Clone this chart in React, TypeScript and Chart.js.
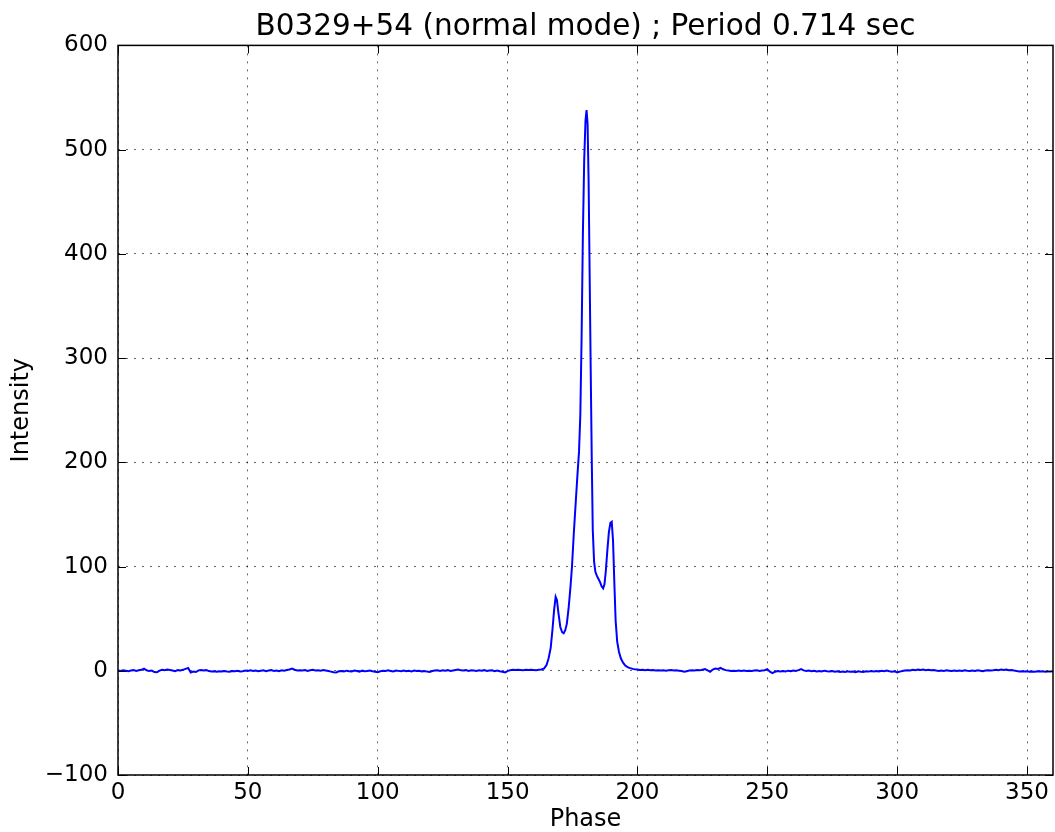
import React, { useEffect, useRef } from "react";
import { Chart, registerables } from "chart.js";

Chart.register(...registerables);

const chartTitle = "B0329+54 (normal mode) ; Period 0.714 sec";
const xLabel = "Phase";
const yLabel = "Intensity";
const xTicks = [0, 50, 100, 150, 200, 250, 300, 350];
const yMin = -100;
const yMax = 600;
const yStep = 100;
const xMin = 0;
const xMax = 360;

// Off-pulse baseline, one value per degree of phase starting at leftBaselineStart
const leftBaselineStart = 0;
const leftBaseline = [
  0.3, -0.2, 0.5, 0.1, -0.4, 0.2, 0.6, -0.1, 0.4, 0.9,
  2.0, 0.5, -0.3, 0.2, -1.2, -1.5, 0.1, 1.0, 0.6, 1.2,
  0.8, 0.3, -0.4, 0.6, 0.2, 0.9, 1.8, 2.6, -1.6, -0.8,
  -1.2, 0.4, 0.7, 0.2, 0.6, -0.3, -0.8, -0.5, -0.9, -0.4,
  -0.7, -0.2, -0.6, -0.9, -0.3, -0.5, -0.1, -0.7, -0.4, 0.2,
  -0.3, 0.4, -0.2, 0.3, -0.5, 0.1, 0.5, -0.4, 0.2, 0.6,
  -0.2, 0.3, -0.4, 0.5, 0.1, 0.7, 1.2, 2.1, 1.0, 0.3,
  0.6, 0.2, 0.8, -0.1, 0.5, 0.9, 0.3, 0.6, 0.1, 0.7,
  0.2, -0.3, -0.8, -1.4, -1.6, -0.5, -0.2, -0.7, 0.1, -0.4,
  -0.6, 0.2, -0.3, -0.8, 0.1, -0.5, -0.2, 0.3, -0.4, -0.9,
  -1.3, -0.4, 0.1, -0.3, 0.4, -0.2, -0.6, 0.2, -0.1, -0.5,
  0.3, -0.4, -0.1, -0.7, 0.2, -0.3, 0.1, -0.6, -0.2, -0.8,
  -1.2, -0.3, 0.2, 0.5, -0.1, 0.4, 0.1, 0.6, -0.2, 0.3,
  0.7, 1.1, 0.4, 0.2, 0.6, -0.1, 0.5, 0.2, -0.3, 0.4,
  0.1, 0.6, -0.2, 0.3, 0.5, -0.4, 0.2, -0.5, -1.0, -1.6,
  -0.3, 0.6, 0.9, 0.7, 1.0, 0.8, 0.6, 0.9, 0.7, 1.0,
  0.8, 0.6, 0.9, 1.2,
];

// On-pulse region, finely sampled
const peakPhase = [
  164, 165, 165.8, 166.6, 167.3, 167.9, 168.5, 169.0, 169.6, 170.3,
  171.0, 171.6, 172.2, 172.8, 173.5, 174.2, 174.8, 175.5, 176.2, 176.9,
  177.5, 178.0, 178.5, 179.0, 179.5, 180.0, 180.4, 180.8, 181.2, 181.6,
  182.0, 182.4, 182.8, 183.3, 183.8, 184.4, 185.0, 185.6, 186.2, 186.8,
  187.3, 187.8, 188.4, 189.0, 189.6, 190.1, 190.6, 191.1, 191.6, 192.2,
  192.9, 193.6, 194.4, 195.3, 196.2, 197.2, 198.2,
];
const peakIntensity = [
  2, 5.5, 12, 22, 40, 58, 71, 68, 55, 42,
  37, 36, 39, 45, 60, 80, 100, 132, 160, 188,
  210, 245, 320, 420, 490, 528, 538, 525, 470, 380,
  290, 205, 135, 105, 95, 91, 88, 85, 81, 79,
  83, 95, 115, 133, 142, 143, 125, 85, 48, 28,
  18, 12, 8, 5, 3.5, 2.5, 1.8,
];

const rightBaselineStart = 199;
const rightBaseline = [
  1.5, 1.2, 0.8, 1.0, 0.6, 0.9, 0.4, 0.7, 0.3, 0.6,
  0.2, 0.5, 0.1, 0.4, 0.7, 0.2, 0.5, 0.1, -0.3, -0.9,
  -0.4, 0.2, 0.6, 0.3, 0.8, 0.4, 1.0, 1.6, 0.3, -0.9,
  1.2, 2.2, 1.8, 2.7, 1.4, 0.6, 0.2, -0.3, 0.1, -0.2,
  0.2, -0.1, 0.3, -0.2, 0.1, -0.3, 0.2, 0.4, -0.1, 0.3,
  0.5, 1.6, -0.8, -2.2, -0.9, -0.3, -0.6, -0.2, -0.7, 0.1,
  -0.4, 0.3, -0.2, 0.6, 1.6, 0.4, -0.2, 0.3, -0.4, -0.1,
  -0.6, -0.2, -0.7, 0.1, -0.5, -0.8, -0.3, -0.9, -0.4, -1.1,
  -0.7, -1.2, -0.6, -1.0, -0.8, -1.3, -0.5, -0.9, -1.1, -0.4,
  -0.8, -0.2, -0.6, -0.3, -0.7, -0.1, -0.5, 0.2, -0.4, -0.9,
  -0.5, -1.5, -0.8, -0.2, 0.3, 0.6, 0.2, 0.9, 0.5, 1.1,
  0.7, 1.2, 0.6, 0.9, 0.4, 0.8, 0.2, -0.2, 0.3, -0.1,
  0.4, 0.1, -0.3, 0.2, -0.2, 0.3, -0.1, 0.4, 0.0, -0.3,
  0.2, -0.2, 0.5, 0.1, -0.4, 0.3, 0.6, 0.2, 0.5, 0.9,
  0.6, 1.1, 0.7, 1.2, 0.5, 0.8, 0.2, -0.3, -0.7, -0.4,
  -0.8, -0.5, -1.0, -0.6, -0.9, -0.4, -0.8, -0.5, -1.0, -0.6,
  -0.7, -0.5,
];

const FONT = "'DejaVu Sans', 'Liberation Sans', sans-serif";

const frameAndTicks = {
  id: "frameAndTicks",
  afterDatasetsDraw(chart: any) {
    const { ctx, chartArea: a, scales } = chart;
    const L = 8;
    ctx.save();
    ctx.setLineDash([]);
    ctx.strokeStyle = "#000";
    ctx.lineWidth = 1;
    ctx.beginPath();
    scales.x.ticks.forEach((t: any) => {
      const px = Math.round(scales.x.getPixelForValue(t.value)) + 0.5;
      ctx.moveTo(px, a.bottom);
      ctx.lineTo(px, a.bottom - L);
      ctx.moveTo(px, a.top);
      ctx.lineTo(px, a.top + L);
    });
    scales.y.ticks.forEach((t: any) => {
      const py = Math.round(scales.y.getPixelForValue(t.value)) + 0.5;
      ctx.moveTo(a.left, py);
      ctx.lineTo(a.left + L, py);
      ctx.moveTo(a.right, py);
      ctx.lineTo(a.right - L, py);
    });
    ctx.stroke();
    ctx.lineWidth = 1.5;
    ctx.strokeRect(a.left, a.top, a.right - a.left, a.bottom - a.top);
    ctx.restore();
  },
};

export default function App() {
  const canvasRef = useRef<HTMLCanvasElement | null>(null);

  useEffect(() => {
    const canvas = canvasRef.current;
    if (!canvas) return;

    const points: { x: number; y: number }[] = [
      ...leftBaseline.map((v, i) => ({ x: leftBaselineStart + i, y: v })),
      ...peakPhase.map((p, i) => ({ x: p, y: peakIntensity[i] })),
      ...rightBaseline.map((v, i) => ({ x: rightBaselineStart + i, y: v })),
    ];

    const chart = new Chart(canvas, {
      type: "line",
      data: {
        datasets: [
          {
            data: points,
            borderColor: "#0000ff",
            borderWidth: 2,
            pointRadius: 0,
            tension: 0,
            fill: false,
          },
        ],
      },
      options: {
        animation: false,
        responsive: false,
        devicePixelRatio: 1,
        layout: { padding: { left: 0, right: 2, top: 0, bottom: 0 } },
        plugins: {
          legend: { display: false },
          tooltip: { enabled: false },
          title: {
            display: true,
            text: chartTitle,
            fullSize: false,
            color: "#000",
            font: { family: FONT, size: 29.5, weight: "normal", lineHeight: 1.2 },
            padding: { top: 10, bottom: 0 },
          },
        },
        scales: {
          x: {
            type: "linear",
            min: xMin,
            max: xMax,
            afterBuildTicks: (scale: any) => {
              scale.ticks = xTicks.map((v) => ({ value: v }));
            },
            afterFit: (scale: any) => {
              scale.height = 57;
            },
            grid: {
              drawTicks: false,
              color: "rgba(0,0,0,0.6)",
              lineWidth: 1,
            },
            border: { display: false, dash: [2, 6] },
            ticks: {
              color: "#000",
              font: { family: FONT, size: 23 },
              padding: 4,
              maxRotation: 0,
              autoSkip: false,
            },
            title: {
              display: true,
              text: xLabel,
              color: "#000",
              font: { family: FONT, size: 24, lineHeight: 1.0 },
              padding: { top: 0, bottom: 0 },
            },
          },
          y: {
            type: "linear",
            min: yMin,
            max: yMax,
            afterFit: (scale: any) => {
              scale.width = 118;
            },
            grid: {
              drawTicks: false,
              color: "rgba(0,0,0,0.6)",
              lineWidth: 1,
            },
            border: { display: false, dash: [2, 6] },
            ticks: {
              stepSize: yStep,
              color: "#000",
              font: { family: FONT, size: 23 },
              padding: 10,
              callback: (v: any) => (Number(v) < 0 ? "\u2212" + Math.abs(Number(v)) : String(v)),
            },
            title: {
              display: true,
              text: yLabel,
              color: "#000",
              font: { family: FONT, size: 24, lineHeight: 1.0 },
              padding: { top: 10, bottom: 0 },
            },
          },
        },
      },
      plugins: [frameAndTicks],
    });

    return () => chart.destroy();
  }, []);

  return (
    <div style={{ position: "absolute", left: 0, top: 0, width: 1055, height: 832, background: "#fff" }}>
      <canvas ref={canvasRef} width={1055} height={832} style={{ display: "block", width: 1055, height: 832 }} />
    </div>
  );
}
